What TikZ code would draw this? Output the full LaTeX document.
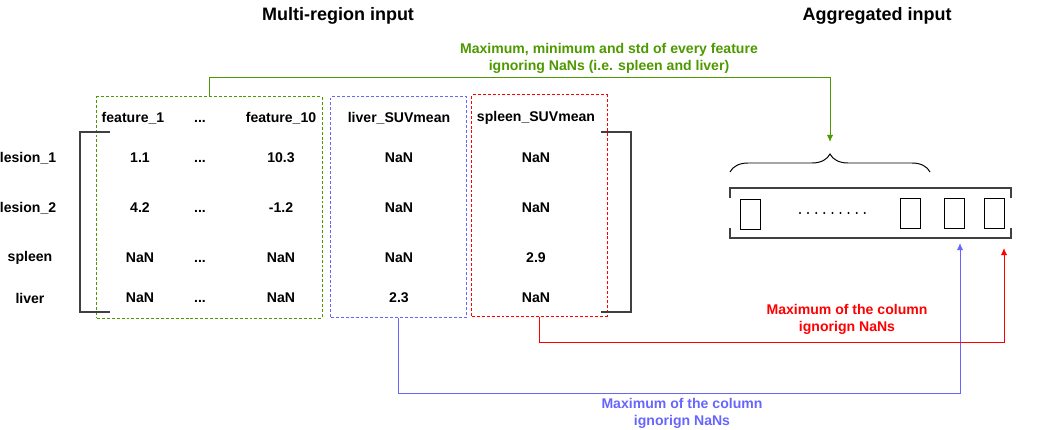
\documentclass[tikz,border=0pt]{standalone}
\usepackage{fontspec}
\setmainfont{Liberation Sans}
\usetikzlibrary{arrows.meta,decorations.pathreplacing}
\definecolor{fgreen}{HTML}{4D9900}
\definecolor{fblue}{HTML}{6666FF}
\definecolor{fred}{HTML}{FF0000}
\definecolor{fgray}{HTML}{404040}
\newcommand{\skipdots}{\vphantom{N}...}
\begin{document}
\begin{tikzpicture}[x=0.025cm,y=-0.025cm,
    every node/.style={font=\bfseries\fontsize{10}{12}\selectfont},
    title/.style={font=\bfseries\fontsize{12.8}{15}\selectfont},
    note/.style={align=center},
    group/.style={draw,line width=0.7pt,dash pattern=on 2.1pt off 1.4pt,minimum height=5.525cm},
    cell/.style={draw,line width=0.7pt,minimum width=0.5cm,minimum height=0.75cm,inner sep=0pt},
    bracket/.style={fgray,line width=1.4pt},
    link/.style={-{Latex[length=5pt,width=4.5pt]},line width=0.7pt}]
  \useasboundingbox (0,0) rectangle (1052,429);
  \node[title] (t1) at (338,16) {Multi-region input};
  \node[title] (t2) at (877,16) {Aggregated input};
  \node[group,fgreen,minimum width=5.625cm] (gbox) at (209.5,207.5) {};
  \node[group,fblue,minimum width=3.375cm] (bbox) at (398.5,207) {};
  \node[group,fred,minimum width=3.375cm] (rbox) at (539.5,205.5) {};
  \draw
    (133,118) node (h1) {feature\_1}
    (200,118) node (h2) {\skipdots}
    (281,118) node (h3) {feature\_10}
    (399,118) node (h4) {liver\_SUVmean}
    (536,118) node (h5) {spleen\_SUVmean};
  \draw
    (28,158) node (l1) {lesion\_1}
    (28,208) node (l2) {lesion\_2}
    (30,258) node (sp) {spleen}
    (30,298) node (lv) {liver};
  \draw
    (140,158) node (a1) {1.1}
    (200,158) node (a2) {\skipdots}
    (281,158) node (a3) {10.3}
    (399,158) node (a4) {NaN}
    (536,158) node (a5) {NaN}
    (140,208) node (b1) {4.2}
    (200,208) node (b2) {\skipdots}
    (281,208) node (b3) {-1.2}
    (399,208) node (b4) {NaN}
    (536,208) node (b5) {NaN}
    (140,258) node (c1) {NaN}
    (200,258) node (c2) {\skipdots}
    (281,258) node (c3) {NaN}
    (399,258) node (c4) {NaN}
    (536,258) node (c5) {2.9}
    (140,298) node (d1) {NaN}
    (200,298) node (d2) {\skipdots}
    (281,298) node (d3) {NaN}
    (399,298) node (d4) {2.3}
    (536,298) node (d5) {NaN};
  \draw[bracket] (110,132) -- (80,132) -- (80,312) -- (110,312);
  \draw[bracket] (601,132) -- (631,132) -- (631,312) -- (601,312);
  \draw[bracket] (730,198) -- (730,188) -- (1011,188) -- (1011,198);
  \draw[bracket] (730,228) -- (730,238) -- (1011,238) -- (1011,228);
  \node[cell] (v1) at (750,214) {};
  \node[cell] (v2) at (910,213) {};
  \node[cell] (v3) at (954,213) {};
  \node[cell] (v4) at (994,213) {};
  \foreach \i in {0,...,8}
    \fill (800+\i*8.1,213) circle (0.8pt);
  \draw[line width=0.7pt,decorate,decoration={brace,amplitude=0.45cm}]
    (730,172) -- (930,172);
  \coordinate (gin) at (830,142);
  \coordinate (bin) at (960,243);
  \coordinate (rin) at (1004,248);
  \begin{scope}[link]
    \draw[fgreen] (gbox.north) -- ++(0,-19) -| (gin);
    \draw[fblue] (bbox.south) -- ++(0,75) -| (bin);
    \draw[fred] (rbox.south) -- ++(0,26) -| (rin);
  \end{scope}
  \node[note,text=fgreen] (gnote) at (609,58)
    {Maximum, minimum and std of every feature\\ignoring NaNs (i.e. spleen and liver)};
  \node[note,text=fred] (rnote) at (847,319) {Maximum of the column\\ignorign NaNs};
  \node[note,text=fblue] (bnote) at (682,413) {Maximum of the column\\ignorign NaNs};
\end{tikzpicture}
\end{document}
